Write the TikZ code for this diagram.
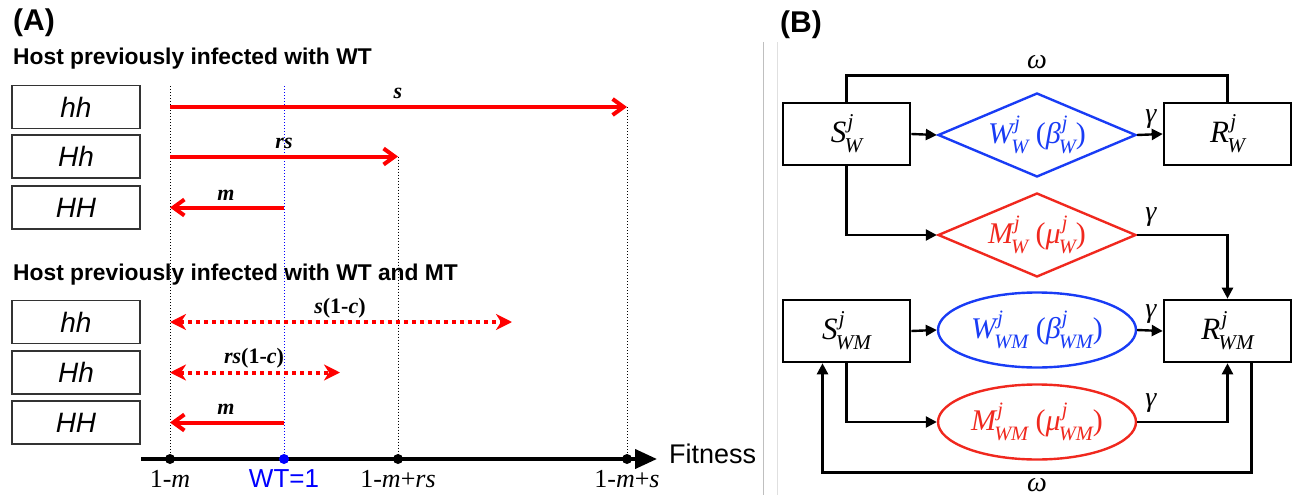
\documentclass[tikz,border=0pt]{standalone}
\usepackage{fontspec}
\setmainfont{Liberation Serif}
\setsansfont{Liberation Sans}
\usetikzlibrary{arrows.meta,shapes.geometric,calc}
\makeatletter
\newcommand\scrsz{\fontsize{\fpeval{0.68*\f@size}}{0}\selectfont}
\makeatother
\newcommand\supsub[3]{#1\rlap{\kern0.04em\raisebox{0.45em}{\scrsz #2}}\kern-0.06em\raisebox{-0.33em}{\scrsz #3}}
\newcommand\bi[1]{\textbf{\textit{#1}}}
\definecolor{bblue}{RGB}{25,60,245}
\definecolor{bred}{RGB}{240,40,30}
\begin{document}
\begin{tikzpicture}[x=1pt,y=-1pt,
  gbox/.style={draw=black!80,line width=1.3pt,minimum width=128pt,minimum height=43pt,inner sep=0pt,font=\fontsize{28}{28}\selectfont\sffamily\itshape},
  title/.style={anchor=base west,inner sep=0pt,font=\fontsize{22.8}{24}\selectfont\sffamily\bfseries},
  panel/.style={anchor=base west,inner sep=0pt,font=\fontsize{30}{30}\selectfont\sffamily\bfseries},
  alab/.style={anchor=base,inner sep=0pt,font=\fontsize{22}{22}\selectfont},
  xlab/.style={anchor=base,inner sep=0pt,font=\fontsize{26}{26}\selectfont},
  vdot/.style={line width=1pt,dash pattern=on 1pt off 2pt},
  rarr/.style={red,line width=4pt,-{Straight Barb[length=11pt,width=16pt]}},
  rdot/.style={red,line width=4pt,dash pattern=on 4pt off 4pt,{Stealth[length=16pt,width=16pt,inset=5pt]}-{Stealth[length=16pt,width=16pt,inset=5pt]}},
  dot/.style={circle,fill,inner sep=0pt,minimum size=10pt},
  bbox/.style={draw,line width=2.6pt,minimum width=127pt,minimum height=62pt,inner sep=0pt,font=\fontsize{31}{31}\selectfont\itshape},
  dia/.style={draw,shape=diamond,aspect=2.357,minimum width=198pt,minimum height=84pt,inner sep=0pt,line width=2.4pt,font=\fontsize{30}{30}\selectfont\itshape},
  ell/.style={draw,shape=ellipse,minimum width=198pt,minimum height=75pt,inner sep=0pt,line width=2.4pt,font=\fontsize{30}{30}\selectfont\itshape},
  barr/.style={line width=2.4pt,-{Triangle[length=11pt,width=11pt]}},
  bline/.style={line width=2.4pt},
  glab/.style={anchor=base,inner sep=0pt,font=\fontsize{28}{28}\selectfont\itshape}
]
\useasboundingbox (0,0) rectangle (1298,495);

% separators
\draw[black!25,line width=1pt] (763,42) -- (763,495);
\draw[black!12,line width=1pt] (777,42) -- (777,495);

% ===== Panel A =====
\node[panel] (pa) at (13,31) {(A)};
\node[title] (t1title) at (13,65) {Host previously infected with WT};
\node[title] (t2title) at (13,280) {Host previously infected with WT and MT};

\node[gbox] (b1) at (76,107) {hh};
\node[gbox] (b2) at (76,156.5) {Hh};
\node[gbox] (b3) at (76,207.5) {HH};
\node[gbox] (b4) at (76,322) {hh};
\node[gbox] (b5) at (76,372.5) {Hh};
\node[gbox] (b6) at (76,422.5) {HH};

\coordinate (t1) at (170,86);
\coordinate (t2) at (284,86);
\coordinate (t3) at (398,156.5);
\coordinate (t4) at (627,107);
\coordinate (e4) at (512,322);
\coordinate (e5) at (340,372.5);
\coordinate (ax0) at (141,459);
\coordinate (ax1) at (657,459);

% axis
\draw[line width=4pt,-{Triangle[length=22pt,width=19pt]}] (ax0) -- (ax1);
\node[dot] (d1) at (170,459) {};
\node[dot,blue] (d2) at (284,459) {};
\node[dot] (d3) at (398,459) {};
\node[dot] (d4) at (627,459) {};

% vertical guides
\draw[vdot] (t1) -- (d1);
\draw[vdot,blue] (t2) -- (d2);
\draw[vdot] (t3) -- (d3);
\draw[vdot] (t4) -- (d4);

% arrows
\draw[rarr] (t1 |- b1) -- (t4);
\draw[rarr] (t1 |- b2) -- (t3);
\draw[rarr] (t2 |- b3) -- (t1 |- b3);
\draw[rdot] (t1 |- b4) -- (e4);
\draw[rdot] (t1 |- b5) -- (e5);
\draw[rarr] (t2 |- b6) -- (t1 |- b6);

\node[alab] (ls) at (398,98) {\bi{s}};
\node[alab] (lrs) at (284,148) {\bi{rs}};
\node[alab] (lm) at (226,200) {\bi{m}};
\node[alab] (lsc) at (340,313) {\bi{s}\textbf{(1-}\bi{c}\textbf{)}};
\node[alab] (lrsc) at (254,363) {\bi{rs}\textbf{(1-}\bi{c}\textbf{)}};
\node[alab] (lm2) at (226,414) {\bi{m}};

\node[xlab] (x1) at (170,487) {1-\textit{m}};
\node[xlab,blue,font=\fontsize{26}{26}\selectfont\sffamily] (x2) at (284,487) {WT=1};
\node[xlab] (x3) at (398,487) {1-\textit{m}+\textit{rs}};
\node[xlab] (x4) at (627,487) {1-\textit{m}+\textit{s}};
\node[anchor=base west,inner sep=0pt,font=\fontsize{27}{27}\selectfont\sffamily] (fit) at (669,463) {Fitness};

% ===== Panel B =====
\node[panel] (pb) at (780,33) {(B)};

\node[bbox] (SW) at (846.5,134) {\supsub{S}{j}{W}};
\node[bbox] (RW) at (1227.5,134) {\supsub{R}{j}{W}};
\node[bbox] (SWM) at (846.5,331) {\supsub{S}{j}{WM}};
\node[bbox] (RWM) at (1227.5,331) {\supsub{R}{j}{WM}};

\node[dia,bblue] (WW) at (1037,135) {\supsub{W}{j}{W} {\upshape(}\supsub{β}{j}{W}{\upshape)}};
\node[dia,bred] (MW) at (1037,235) {\supsub{M}{j}{W} {\upshape(}\supsub{μ}{j}{W}{\upshape)}};
\node[ell,bblue] (WWM) at (1037,330) {\supsub{W}{j}{WM} {\upshape(}\supsub{β}{j}{WM}{\upshape)}};
\node[ell,bred] (MWM) at (1037,422) {\supsub{M}{j}{WM} {\upshape(}\supsub{μ}{j}{WM}{\upshape)}};

\draw[barr] (SW.east) -- (WW.west);
\draw[barr] (WW.east) -- (RW.west);
\draw[barr] (SW.south) |- (MW.west);
\draw[barr] (MW.east) -| (RWM.north);
\draw[barr] (SWM.east) -- (WWM.west);
\draw[barr] (WWM.east) -- (RWM.west);
\draw[barr] (SWM.south) |- (MWM.west);
\draw[barr] (MWM.east) -| (RWM.south);
\draw[bline] (SW.north) -- ++(0,-26) -| (RW.north);
\draw[barr] ([xshift=24pt]RWM.south) -- ++(0,109) -| ([xshift=-24pt]SWM.south);

\node[glab] (om1) at (1037,68) {ω};
\node[glab] (om2) at (1037,491) {ω};
\node[glab] (g1) at (1151,122) {γ};
\node[glab] (g2) at (1151,220) {γ};
\node[glab] (g3) at (1151,317) {γ};
\node[glab] (g4) at (1151,406) {γ};
\end{tikzpicture}
\end{document}
